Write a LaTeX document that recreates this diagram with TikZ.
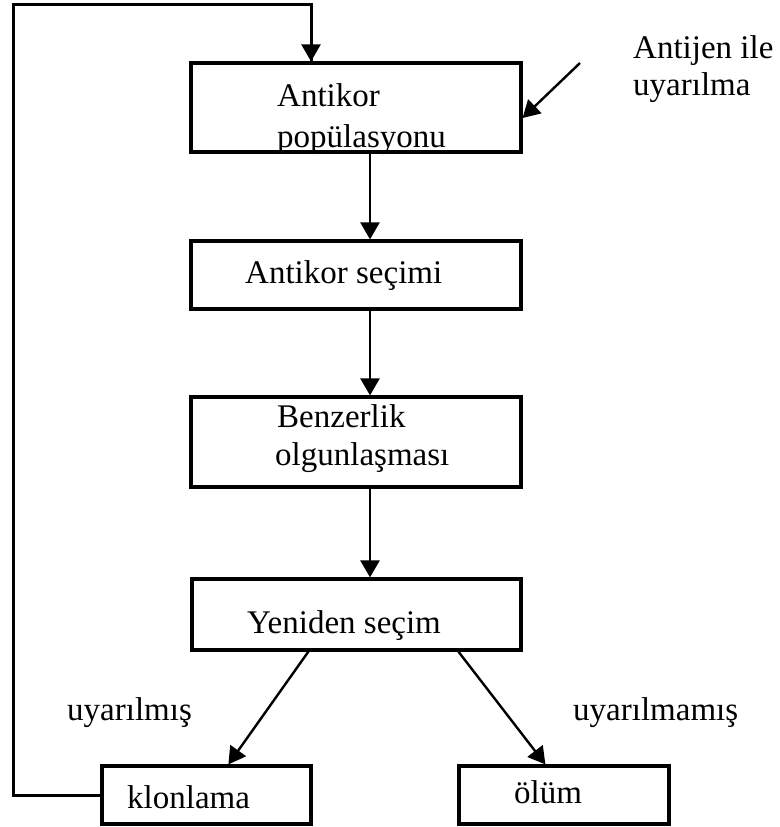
\documentclass[tikz,border=0pt]{standalone}
\usepackage{fontspec}
\setmainfont{Liberation Serif}
\usetikzlibrary{arrows.meta}
\begin{document}
\begin{tikzpicture}[x=1pt,y=-1pt,
  box/.style={draw,line width=3.2pt,rectangle,inner sep=0pt},
  txt/.style={anchor=base west,inner sep=0pt,font=\fontsize{33}{40}\selectfont},
  conn/.style={line width=2.4pt,-{Triangle[length=17pt,width=19pt]}},
  loopline/.style={line width=3pt}]
\useasboundingbox (0,0) rectangle (779,827);
% boxes
\node[box,minimum width=330pt,minimum height=89pt] (pop) at (356,107.5) {};
\node[box,minimum width=330pt,minimum height=68pt] (sec) at (356,275) {};
\node[box,minimum width=330pt,minimum height=90pt] (benz) at (356,442) {};
\node[box,minimum width=329pt,minimum height=71pt] (yen) at (356.5,614.5) {};
\node[box,minimum width=209pt,minimum height=58pt] (klon) at (206.5,795) {};
\node[box,minimum width=210pt,minimum height=58pt] (olum) at (564,795) {};
% texts
\node[txt] (t1) at (277,106) {Antikor};
\node[txt] (t2) at (277,147) {popülasyonu};
\node[txt] (t3) at (245,283) {Antikor seçimi};
\node[txt] (t4) at (277,427) {Benzerlik};
\node[txt] (t5) at (275,465) {olgunlaşması};
\node[txt] (t6) at (247,633) {Yeniden seçim};
\node[txt] (t7) at (127,808) {klonlama};
\node[txt] (t8) at (514,803) {ölüm};
\node[txt] (t9) at (67,720) {uyarılmış};
\node[txt] (t10) at (573,720) {uyarılmamış};
\node[txt] (t11) at (633,58) {Antijen ile};
\node[txt] (t12) at (633,95) {uyarılma};
% free ends
\coordinate (ag) at (580,63);
\coordinate (lp1) at (13,795);
\coordinate (lp2) at (13,4);
% connectors
\draw[conn] ([xshift=14pt]pop.south) -- ([xshift=14pt]sec.north);
\draw[conn] ([xshift=14pt]sec.south) -- ([xshift=14pt]benz.north);
\draw[conn] ([xshift=14pt]benz.south) -- ([xshift=13.5pt]yen.north);
\draw[conn] ([xshift=118pt]yen.south west) -- ([xshift=128pt]klon.south west |- klon.north);
\draw[conn] ([xshift=268pt]yen.south west) -- ([xshift=88pt]olum.north west);
\draw[conn] (ag) -- ([yshift=-10.5pt]pop.east);
\draw[loopline] (klon.west) -- (lp1) -- (lp2) -| ([xshift=-45pt]pop.north)
  coordinate[pos=0.5] (lp3);
\draw[conn] (lp3) -- ([xshift=-45pt]pop.north);
\end{tikzpicture}
\end{document}
